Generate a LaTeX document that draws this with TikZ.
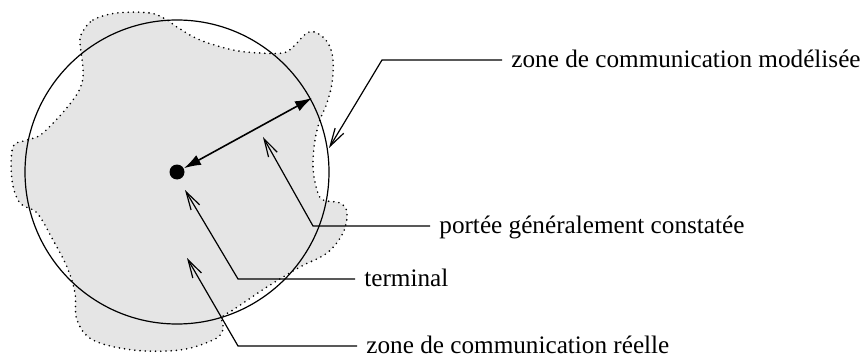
\documentclass[tikz,border=0pt]{standalone}
\usepackage{fontspec}
\setmainfont{Liberation Serif}
\usetikzlibrary{arrows.meta}
\usetikzlibrary{calc}

\begin{document}
\begin{tikzpicture}[x=0.5pt,y=-0.5pt,
  lbl/.style={anchor=west,inner xsep=4.5pt,inner ysep=0pt,text height=7.4pt,text depth=0pt,
    font=\fontsize{12.6}{14}\selectfont},
  pointer/.style={line width=0.6pt,-{Straight Barb[length=9pt,width=5pt]}},
  dot/.style={circle,fill,inner sep=0pt,minimum size=7.5pt}]
\useasboundingbox (0,0) rectangle (862,358);
\fill[black!10]
  plot[smooth cycle,tension=0.6] coordinates {(82,33) (93,20) (117,13) (150,13) (167,20) (177,27)
  (200,40) (233,50) (260,53) (283,53) (293,47) (307,33) (317,33) (328,43) (333,60) (332,83)
  (327,103) (320,120) (315,140) (313,167) (317,190) (323,200) (340,203) (347,213) (343,233)
  (327,253) (300,267) (267,287) (233,310) (222,317) (223,330) (213,340) (180,350) (133,350)
  (93,340) (77,320) (75,293) (67,267) (53,240) (37,213) (20,203) (12,180) (13,147) (27,140)
  (43,133) (73,100) (83,77) (80,43)};
\draw[line width=0.9pt,line cap=round,dash pattern=on 0pt off 2.6pt]
  plot[smooth cycle,tension=0.6] coordinates {(82,33) (93,20) (117,13) (150,13) (167,20) (177,27)
  (200,40) (233,50) (260,53) (283,53) (293,47) (307,33) (317,33) (328,43) (333,60) (332,83)
  (327,103) (320,120) (315,140) (313,167) (317,190) (323,200) (340,203) (347,213) (343,233)
  (327,253) (300,267) (267,287) (233,310) (222,317) (223,330) (213,340) (180,350) (133,350)
  (93,340) (77,320) (75,293) (67,267) (53,240) (37,213) (20,203) (12,180) (13,147) (27,140)
  (43,133) (73,100) (83,77) (80,43)};
\node[dot] (term) at (177,172) {};
\draw[line width=0.6pt] (term.center) circle[radius=76pt];
\coordinate (rim) at (312,98);
\draw[line width=0.8pt,{Latex[length=8.5pt,width=5.5pt]}-{Latex[length=8.5pt,width=5.5pt]}] (term) -- (rim);
\node[lbl] (modele) at (502,60) {zone de communication modélisée};
\node[lbl] (portee) at (430,226) {portée généralement constatée};
\node[lbl] (termlbl) at (355,279) {terminal};
\node[lbl] (reelle) at (357,346) {zone de communication réelle};
\coordinate (bord) at (329,148);
\coordinate (portpt) at (263,137);
\coordinate (termpt) at (185,190);
\coordinate (reelpt) at (187,258);
\draw[pointer] (modele.west) -- ++(-120,0) -- (bord);
\draw[pointer] (portee.west) -- ++(-117,0) -- (portpt);
\draw[pointer] (termlbl.west) -- ++(-117,0) -- (termpt);
\draw[pointer] (reelle.west) -- ++(-119,0) -- (reelpt);
\end{tikzpicture}
\end{document}
